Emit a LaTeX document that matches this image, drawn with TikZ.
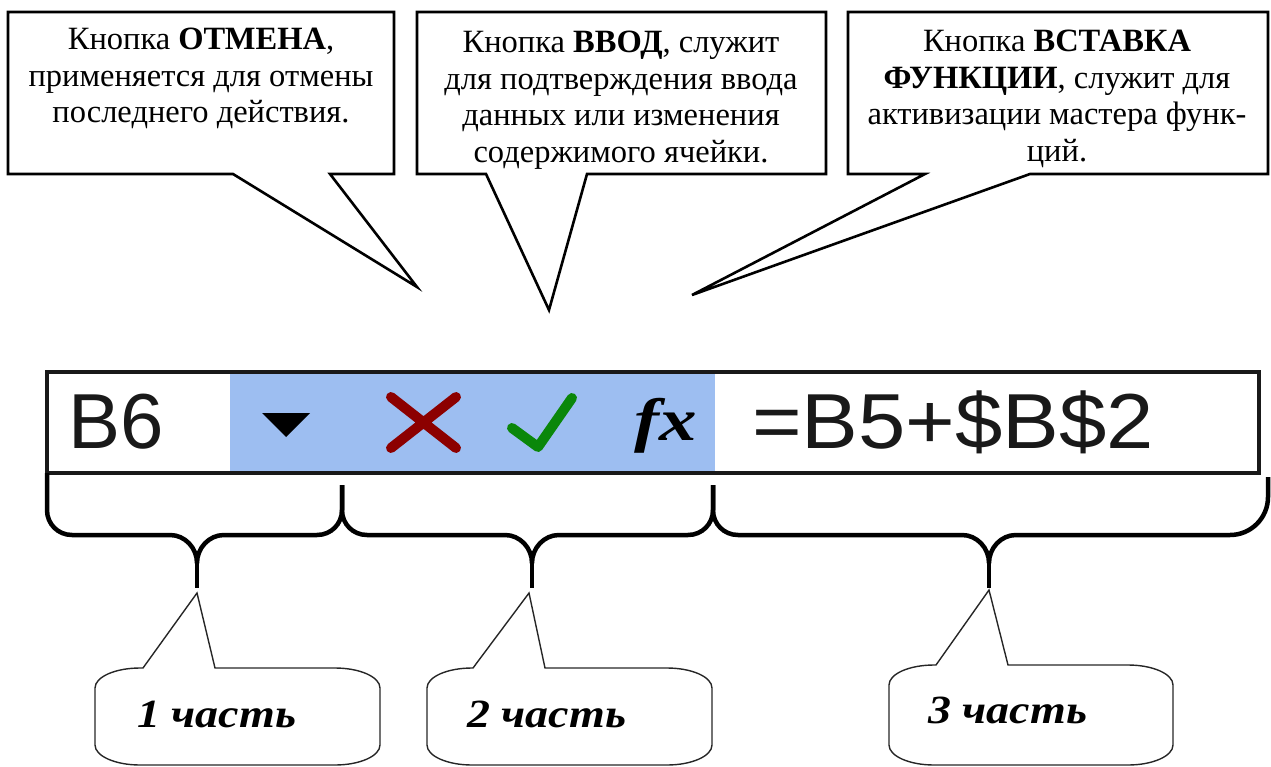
\documentclass[tikz,border=0pt]{standalone}
\usepackage{fontspec}
\usepackage{graphicx}
\newfontfamily\tnr{Liberation Serif}
\newfontfamily\barfont{Liberation Sans}
\definecolor{barblue}{RGB}{157,190,241}
\definecolor{xred}{RGB}{140,0,0}
\definecolor{cgreen}{RGB}{10,135,10}
\newcommand\topcall[5]{% L R lbase tip rbase
  \draw[topbox] (#1,12) -- (#2,12) -- (#2,174) -- (#5,174) -- (#4) -- (#3,174) -- (#1,174) -- cycle;}
\newcommand\partcall[6]{% L R T lbase tip rbase
  \draw[partbox] (#4,#3) -- (#5) -- (#6,#3) -- (#2-45,#3)
    arc[start angle=270,end angle=360,x radius=45,y radius=20] -- (#2,745)
    arc[start angle=0,end angle=90,x radius=45,y radius=20] -- (#1+45,765)
    arc[start angle=90,end angle=180,x radius=45,y radius=20] -- (#1,#3+20)
    arc[start angle=180,end angle=270,x radius=45,y radius=20] -- cycle;}
\newcommand\bracehalf[5]{% xl yl xm xr yr
  \draw[bracestyle] (#1,#2) -- (#1,510) .. controls (#1,524) and (#1+11,535) .. (#1+25,535)
    -- (#3-27,535) .. controls (#3-12,535) and (#3,548) .. (#3,563)
    .. controls (#3,548) and (#3+12,535) .. (#3+27,535)
    -- (#4-25,535) .. controls (#4-11,535) and (#4,524) .. (#4,510) -- (#4,#5);}
\begin{document}
\begin{tikzpicture}[x=1pt,y=-1pt,
  topbox/.style={draw=black,line width=2.6pt,fill=white,line join=miter},
  toptext/.style={font=\tnr\fontsize{32.5}{36.5}\selectfont,align=center,inner sep=0pt,anchor=north},
  partbox/.style={draw=black!85,line width=1.4pt},
  parttext/.style={font=\tnr\fontsize{40}{42}\selectfont\bfseries\itshape,inner sep=0pt,anchor=base west},
  bracestyle/.style={line width=4.5pt,line join=round},
  bartext/.style={font=\barfont\fontsize{78}{80}\selectfont,inner sep=0pt,anchor=base west,text=black!90}]
\useasboundingbox (0,0) rectangle (1271,767);

% top callouts
\coordinate (tipA) at (417,287);
\coordinate (tipB) at (549,310);
\coordinate (tipC) at (692,295);
\topcall{8}{394}{233}{tipA}{330}
\topcall{417}{826}{486}{tipB}{587}
\topcall{848}{1268}{925}{tipC}{1030}
\node[toptext] (t1) at (201,28) {Кнопка \textbf{ОТМЕНА},\\применяется для отмены\\последнего действия.};
\node[toptext] (t2) at (621,31) {Кнопка \textbf{ВВОД}, служит\\для подтверждения ввода\\данных или изменения\\содержимого ячейки.};
\node[toptext] (t3) at (1057,30) {Кнопка \textbf{ВСТАВКА}\\\textbf{ФУНКЦИИ}, служит для\\активизации мастера функ-\\ций.};

% formula bar
\fill[barblue] (230,372) rectangle (715,473);
\draw[line width=3.5pt,black!90] (47,372) rectangle (1259,473);
\node[bartext] (cell) at (68,448) {B6};
\fill[black] (262,413) -- (310,413) -- (286,437) -- cycle;
\draw[xred,line width=10pt,line cap=round] (391,397) -- (456,448) (456,397) -- (391,448);
\draw[cgreen,line width=10pt,line cap=round,line join=round] (512,428) -- (538,447) -- (572,398);
\node[font=\tnr\fontsize{60}{62}\selectfont\bfseries\itshape,inner sep=0pt,anchor=base west] (fx) at (634,440) {\scalebox{1.25}[1]{fx}};
\node[bartext] (formula) at (752,448) {\scalebox{1.09}[1]{=B5+\$B\$2}};

% braces
\bracehalf{47}{473}{197}{342}{485}
\bracehalf{342}{485}{532}{713}{485}
\draw[bracestyle] (713,485) -- (713,510) .. controls (713,524) and (724,535) .. (738,535)
    -- (962,535) .. controls (977,535) and (989,548) .. (989,563)
    .. controls (989,548) and (1001,535) .. (1016,535)
    -- (1230,535) .. controls (1251,535) and (1268,518) .. (1268,497) -- (1268,477);
\coordinate (b1) at (197,588);
\coordinate (b2) at (532,588);
\coordinate (b3) at (989,588);
\draw[bracestyle] (197,560) -- (b1);
\draw[bracestyle] (532,560) -- (b2);
\draw[bracestyle] (989,560) -- (b3);

% bottom callouts
\coordinate (p1tip) at (197,593);
\coordinate (p2tip) at (529,593);
\coordinate (p3tip) at (989,590);
\partcall{95}{380}{668}{143}{p1tip}{215}
\partcall{427}{712}{668}{473}{p2tip}{545}
\partcall{889}{1173}{665}{936}{p3tip}{1008}
\node[parttext] (p1) at (137,727) {\scalebox{1.15}[1]{1 часть}};
\node[parttext] (p2) at (467,727) {\scalebox{1.15}[1]{2 часть}};
\node[parttext] (p3) at (928,723) {\scalebox{1.15}[1]{3 часть}};
\end{tikzpicture}
\end{document}
